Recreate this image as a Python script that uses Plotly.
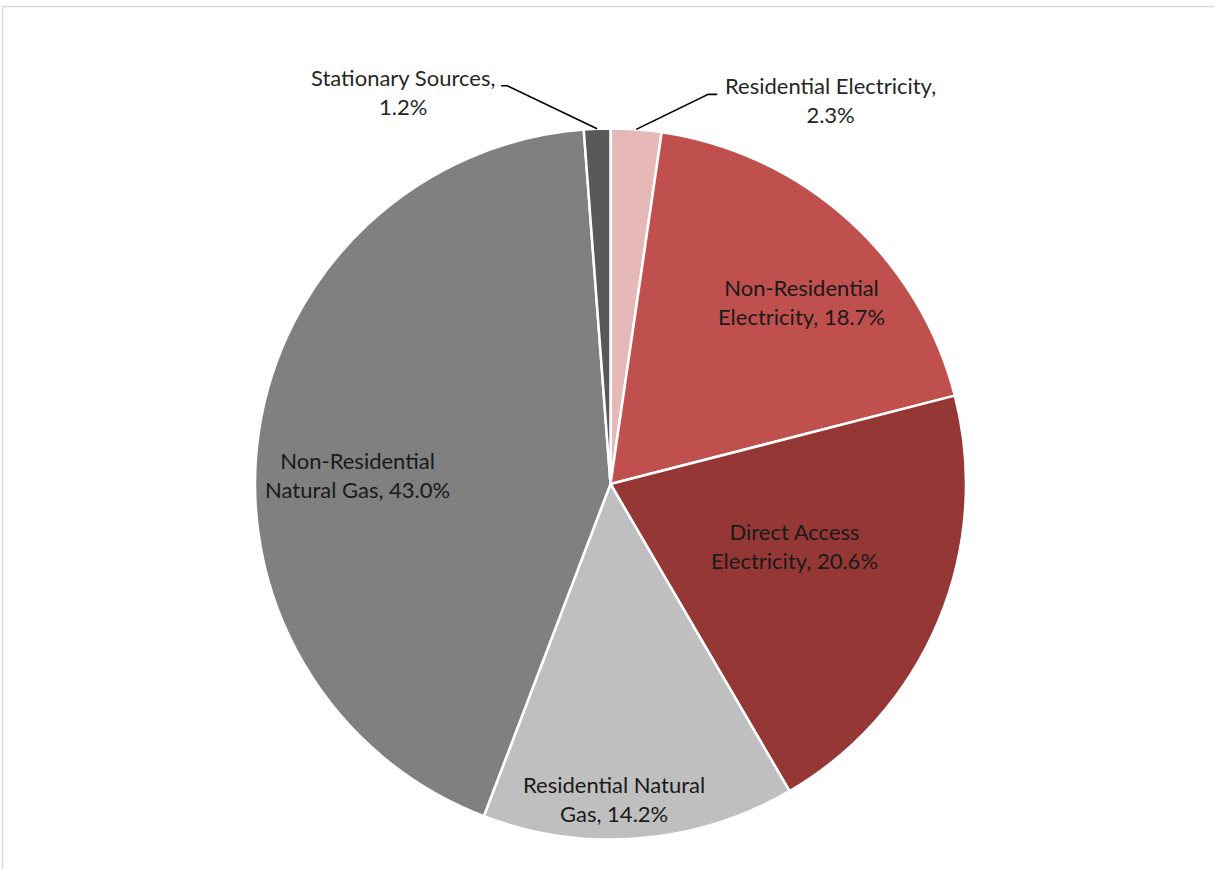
import numpy as np
import plotly.graph_objects as go

# ---- data ----
categories = ["Residential Electricity", "Non-Residential Electricity", "Direct Access Electricity",
              "Residential Natural Gas", "Non-Residential Natural Gas", "Stationary Sources"]
values = [2.3, 18.7, 20.6, 14.2, 43.0, 1.2]
label_wrapped = ["Residential Electricity", "Non-Residential<br>Electricity", "Direct Access<br>Electricity",
                 "Residential Natural<br>Gas", "Non-Residential<br>Natural Gas", "Stationary Sources"]
label_sep = ["<br>", " ", " ", " ", " ", "<br>"]
colors = ["#E6B9B8", "#C0504D", "#953735", "#BFBFBF", "#808080", "#595959"]

# ---- layout / style ----
W, H = 1215, 869
cx, cy, R = 610.5, 484.0, 355.5
FONT = "Lato"
FS = 22

# label placement style: (kind, radius fraction, angle nudge deg) for inside labels;
# (kind, elbow dx, elbow dy, end dx) for outside labels
placement = [
    ("out", 72, -35, 81),
    ("in", 0.741, 4.4),
    ("in", 0.547, -4.1),
    ("in", 0.8875, 4.1),
    ("in", 0.711, -6.35),
    ("out", -90, -43, -96),
]

total = sum(values)
cum = np.cumsum(values)
mid_deg = 360.0 * (cum - np.array(values) / 2.0) / total

def polar(r, deg):
    t = np.radians(deg)
    return cx + r * np.sin(t), cy - r * np.cos(t)

texts = [f"{w},{s}{v:.1f}%" for w, s, v in zip(label_wrapped, label_sep, values)]

fig = go.Figure()
fig.add_trace(go.Pie(
    labels=categories, values=values, sort=False, direction="clockwise", rotation=0,
    marker=dict(colors=colors, line=dict(color="white", width=2.5)),
    textinfo="none", hoverinfo="label+percent", showlegend=False,
    domain=dict(x=[(cx - R) / W, (cx + R) / W], y=[(H - cy - R) / H, (H - cy + R) / H]),
))

annotations = []
shapes = []
for i, p in enumerate(placement):
    if p[0] == "in":
        x, y = polar(R * p[1], mid_deg[i] + p[2])
        annotations.append(dict(x=x, y=y, xref="x", yref="y", text=texts[i], showarrow=False,
                                xanchor="center", yanchor="middle", align="center",
                                font=dict(family=FONT, size=FS, color="#1a1a1a")))
    else:
        ex, ey = polar(R, mid_deg[i])
        bx, by = ex + p[1], ey + p[2]
        tx = ex + p[3]
        shapes.append(dict(type="path", xref="x", yref="y",
                           path=f"M {ex:.1f},{ey:.1f} L {bx:.1f},{by:.1f} L {tx:.1f},{by:.1f}",
                           line=dict(color="black", width=1.6)))
        right = p[3] > 0
        annotations.append(dict(x=tx + (6 if right else -4), y=by + 6, xref="x", yref="y",
                                text=texts[i], showarrow=False,
                                xanchor="left" if right else "right", yanchor="middle",
                                align="center",
                                font=dict(family=FONT, size=FS, color="#262626")))

# chart-area border (top and left edges visible)
shapes.append(dict(type="line", xref="x", yref="y", x0=2, y0=6.5, x1=W, y1=6.5,
                   line=dict(color="#D9D9D9", width=1.5)))
shapes.append(dict(type="line", xref="x", yref="y", x0=2.5, y0=6, x1=2.5, y1=H,
                   line=dict(color="#D9D9D9", width=1.5)))

fig.update_layout(
    width=W, height=H, margin=dict(l=0, r=0, t=0, b=0),
    paper_bgcolor="white", plot_bgcolor="white",
    xaxis=dict(range=[0, W], visible=False, fixedrange=True),
    yaxis=dict(range=[H, 0], visible=False, fixedrange=True),
    annotations=annotations, shapes=shapes,
)

fig.write_html("out.html", config={"displayModeBar": False},
               post_script="document.body.style.margin='0';document.body.style.overflow='hidden';")
